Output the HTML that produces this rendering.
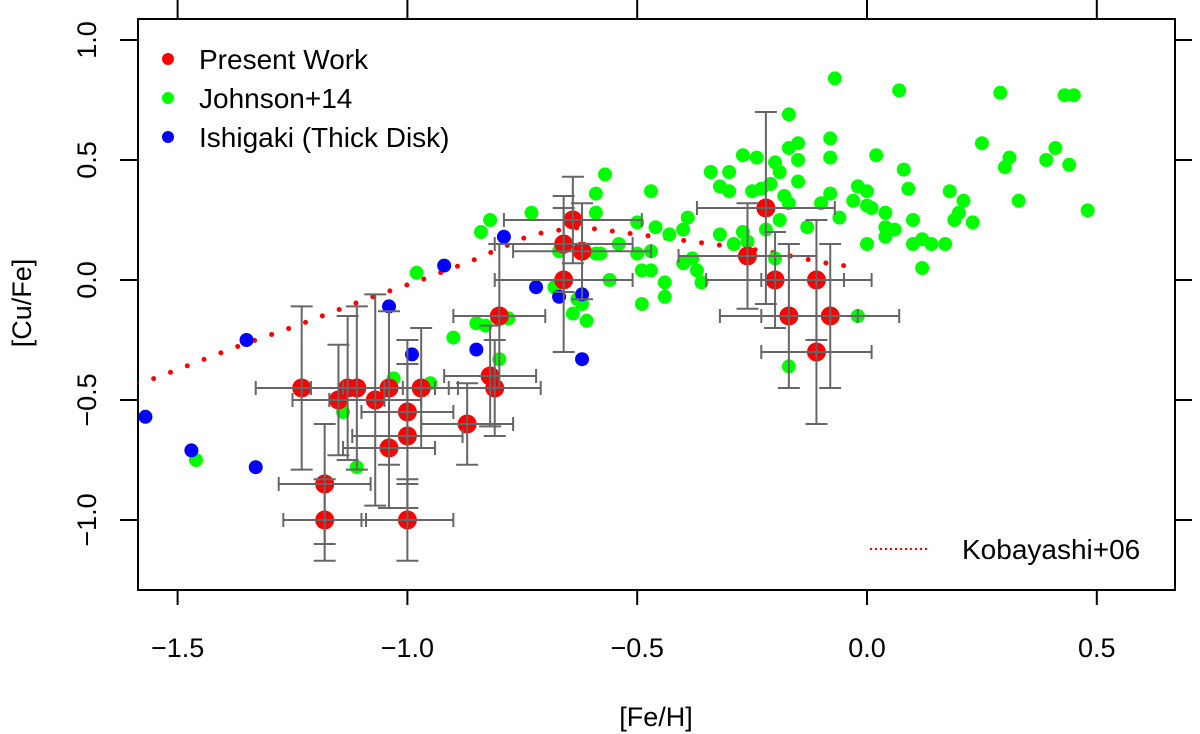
<!DOCTYPE html>
<html><head><meta charset="utf-8"><style>
html,body{margin:0;padding:0;background:#fff}
svg{display:block;font-family:"Liberation Sans",Arial,sans-serif}
</style></head><body>
<svg id="chart" width="1200" height="734" viewBox="0 0 1200 734"></svg>
<script>
// ---- data ----
const presentFe  = [-1.23,-1.15,-1.13,-1.11,-1.07,-1.04,-1.00,-1.00,-1.04,-0.97,-1.18,-1.18,-1.00,-0.87,-0.82,-0.81,-0.80,-0.64,-0.66,-0.62,-0.66,-0.22,-0.26,-0.20,-0.11,-0.17,-0.08,-0.11];
const presentCu  = [-0.45,-0.50,-0.45,-0.45,-0.50,-0.45,-0.55,-0.65,-0.70,-0.45,-0.85,-1.00,-1.00,-0.60,-0.40,-0.45,-0.15,0.25,0.15,0.12,0.00,0.30,0.10,0.00,0.00,-0.15,-0.15,-0.30];
const presentXerr= [0.10,0.10,0.08,0.10,0.10,0.10,0.10,0.12,0.10,0.08,0.10,0.09,0.10,0.10,0.10,0.10,0.10,0.15,0.15,0.15,0.15,0.15,0.15,0.15,0.12,0.15,0.15,0.12];
const presentYerr= [0.34,0.23,0.30,0.34,0.44,0.32,0.30,0.30,0.25,0.25,0.25,0.17,0.17,0.17,0.21,0.20,0.30,0.18,0.20,0.20,0.30,0.40,0.22,0.20,0.25,0.30,0.30,0.30];
const johnsonFe = [-0.07,0.07,0.29,0.43,0.45,-0.17,-0.08,0.25,-0.17,-0.15,0.41,0.31,0.39,-0.27,-0.24,-0.20,-0.15,-0.08,0.02,0.30,0.44,-0.34,-0.30,-0.19,0.08,-0.15,-0.32,-0.30,-0.25,-0.21,-0.02,0.00,0.09,0.18,-0.23,-0.18,-0.08,0.21,0.33,0.48,-0.17,-0.10,-0.03,0.00,0.01,0.04,-0.39,-0.19,-0.06,0.10,0.20,0.19,0.23,-0.40,-0.27,-0.22,-0.13,0.04,0.06,0.04,-0.32,-0.29,-0.26,0.00,0.10,0.12,0.14,0.17,-0.38,-0.40,-0.37,-0.36,-0.20,0.12,-0.02,-0.17,-0.57,-0.47,-0.59,-0.73,-0.59,-0.82,-0.84,-0.50,-0.46,-0.43,-0.54,-0.50,-0.47,-0.59,-0.58,-0.67,-0.49,-0.47,-0.44,-0.49,-0.44,-0.56,-0.68,-0.63,-0.62,-0.64,-0.61,-0.85,-0.83,-0.78,-0.90,-0.80,-0.98,-1.03,-0.95,-1.14,-1.11,-1.46];
const johnsonCu = [0.84,0.79,0.78,0.77,0.77,0.69,0.59,0.57,0.55,0.57,0.55,0.51,0.50,0.52,0.51,0.49,0.50,0.51,0.52,0.47,0.48,0.45,0.45,0.45,0.46,0.41,0.39,0.37,0.37,0.40,0.39,0.37,0.38,0.37,0.38,0.35,0.36,0.33,0.33,0.29,0.32,0.32,0.33,0.31,0.30,0.28,0.26,0.25,0.26,0.25,0.28,0.25,0.24,0.21,0.20,0.21,0.22,0.22,0.21,0.18,0.19,0.15,0.16,0.15,0.15,0.17,0.15,0.15,0.09,0.07,0.04,-0.01,0.09,0.05,-0.15,-0.36,0.44,0.37,0.36,0.28,0.28,0.25,0.20,0.24,0.22,0.19,0.15,0.11,0.12,0.11,0.11,0.12,0.04,0.04,-0.01,-0.10,-0.07,0.00,-0.03,-0.08,-0.10,-0.14,-0.17,-0.18,-0.19,-0.16,-0.24,-0.33,0.03,-0.41,-0.43,-0.55,-0.78,-0.75];
const ishigakiFe = [-1.57,-1.47,-1.33,-1.35,-1.04,-0.92,-0.79,-0.99,-0.85,-0.72,-0.67,-0.62,-0.62];
const ishigakiCu = [-0.57,-0.71,-0.78,-0.25,-0.11,0.06,0.18,-0.31,-0.29,-0.03,-0.07,-0.06,-0.33];
const kobFe = [-1.59,-1.55,-1.36,-1.24,-1.09,-0.97,-0.86,-0.74,-0.70,-0.62,-0.50,-0.38,-0.34,-0.22,-0.14,-0.06,-0.05];
const kobCu = [-0.43,-0.41,-0.27,-0.19,-0.08,0.00,0.08,0.18,0.20,0.22,0.19,0.16,0.15,0.12,0.09,0.06,0.06];
const xTicks = [-1.5,-1.0,-0.5,0.0,0.5];
const xTickLabels = ["\u22121.5","\u22121.0","\u22120.5","0.0","0.5"];
const yTicks = [1.0,0.5,0.0,-0.5,-1.0];
const yTickLabels = ["1.0","0.5","0.0","\u22120.5","\u22121.0"];

// ---- axes ----
const L=138,R=1175,T=19,B=590;
const X=v=>867+v*459.6;
const Y=v=>280-v*240;
const NS="http://www.w3.org/2000/svg";
const svg=document.getElementById('chart');
function mk(tag,attrs,parent){const e=document.createElementNS(NS,tag);for(const k in attrs)e.setAttribute(k,attrs[k]);(parent||svg).appendChild(e);return e;}

const box=mk('rect',{x:L,y:T,width:R-L,height:B-T,fill:'none',stroke:'#000','stroke-width':2});



xTicks.forEach((t,i)=>{
  const x=X(t);
  const g=mk('g',{});
  
  
  mk('line',{x1:x,x2:x,y1:B,y2:B+15,stroke:'#000','stroke-width':2},g);
  mk('line',{x1:x,x2:x,y1:T,y2:T-19,stroke:'#000','stroke-width':2},g);
  const tx=mk('text',{x:x,y:657,'font-size':27,'text-anchor':'middle'},g);
  tx.textContent=xTickLabels[i];
});
yTicks.forEach((t,i)=>{
  const y=Y(t);
  const g=mk('g',{});
  
  
  mk('line',{x1:L,x2:L-18,y1:y,y2:y,stroke:'#000','stroke-width':2},g);
  mk('line',{x1:R,x2:R+17,y1:y,y2:y,stroke:'#000','stroke-width':2},g);
  const tx=mk('text',{x:0,y:0,'font-size':27,'text-anchor':'middle',transform:`translate(96,${y}) rotate(-90)`},g);
  tx.textContent=yTickLabels[i];
});
const xl=mk('text',{x:656,y:726,'font-size':27,'text-anchor':'middle'});
xl.textContent='[Fe/H]';


const yl=mk('text',{x:0,y:0,'font-size':27,'text-anchor':'middle',transform:'translate(31,303) rotate(-90)'});
yl.textContent='[Cu/Fe]';



// clip
const defs=mk('defs',{});
const cp=mk('clipPath',{id:'clip'},defs);
mk('rect',{x:L,y:T,width:R-L,height:B-T},cp);
const plot=mk('g',{'clip-path':'url(#clip)'});

// Kobayashi model
const kob=mk('polyline',{points:kobFe.map((v,i)=>X(v)+','+Y(kobCu[i])).join(' '),fill:'none',stroke:'#ff0000','stroke-width':5,'stroke-linecap':'round','stroke-dasharray':'0 18'},plot);



// Johnson
johnsonFe.forEach((v,i)=>{
  const c=mk('circle',{cx:X(v),cy:Y(johnsonCu[i]),r:7,fill:'#00ff00'},plot);
  
  
});
// Ishigaki
ishigakiFe.forEach((v,i)=>{
  const c=mk('circle',{cx:X(v),cy:Y(ishigakiCu[i]),r:7,fill:'#0000ff'},plot);
  
  
});
// Present work
presentFe.forEach((v,i)=>{
  const cx=X(v),cy=Y(presentCu[i]);
  const c=mk('circle',{cx:cx,cy:cy,r:9.5,fill:'#ff0000'},plot);
  
  
});
presentFe.forEach((v,i)=>{
  const cx=X(v),cy=Y(presentCu[i]);
  const g=mk('g',{stroke:'#666','stroke-width':2},plot);
  
  
  const x1=X(v-presentXerr[i]),x2=X(v+presentXerr[i]);
  const y1=Y(presentCu[i]+presentYerr[i]),y2=Y(presentCu[i]-presentYerr[i]);
  mk('line',{x1:x1,x2:x2,y1:cy,y2:cy},g);
  mk('line',{x1:x1,x2:x1,y1:cy-7,y2:cy+7},g);
  mk('line',{x1:x2,x2:x2,y1:cy-7,y2:cy+7},g);
  mk('line',{x1:cx,x2:cx,y1:y1,y2:y2},g);
  mk('line',{x1:cx-11,x2:cx+11,y1:y1,y2:y1},g);
  mk('line',{x1:cx-11,x2:cx+11,y1:y2,y2:y2},g);
});

// legend
const leg=[['Present Work','#ff0000'],['Johnson+14','#00ff00'],['Ishigaki (Thick Disk)','#0000ff']];
leg.forEach((d,i)=>{
  const g=mk('g',{});
  
  
  mk('circle',{cx:168,cy:59+i*39,r:6,fill:d[1]},g);
  const t=mk('text',{x:199,y:69+i*39,'font-size':28},g);
  t.textContent=d[0];
});
const kg=mk('g',{});


mk('line',{x1:870,x2:928,y1:549,y2:549,stroke:'#ff0000','stroke-width':2,'stroke-dasharray':'2 3'},kg);
const kt=mk('text',{x:962,y:559,'font-size':28},kg);
kt.textContent='Kobayashi+06';
</script>
</body></html>
